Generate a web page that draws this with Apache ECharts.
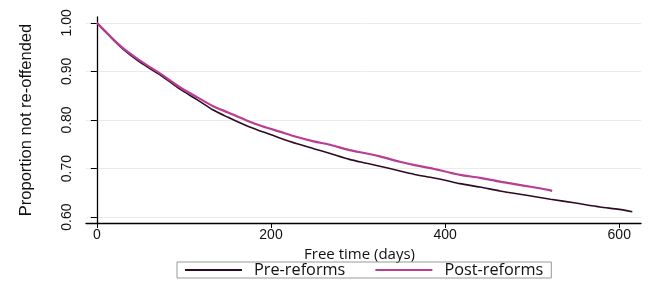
<!DOCTYPE html>
<html><head><meta charset="utf-8">
<script src="https://cdn.jsdelivr.net/npm/echarts@6/dist/echarts.min.js"></script>
<style>html,body{margin:0;padding:0;background:#fff}#c{width:670px;height:289px}</style>
</head><body><div id="c"></div>
<script>
const preDays = [0,10,20,30,45,60,75,95,115,133,150,172,190,210,230,249,268,290,310,325,348,365,383,400,417,440,463,490,521,550,578,600,615];
const preVals = [1.000,0.981,0.963,0.946,0.925,0.907,0.890,0.864,0.842,0.821,0.806,0.788,0.776,0.763,0.751,0.741,0.731,0.719,0.711,0.705,0.695,0.688,0.682,0.676,0.669,0.662,0.654,0.646,0.637,0.629,0.621,0.616,0.611];
const postDays = [0,10,20,30,45,60,75,95,115,133,150,172,190,210,230,249,268,290,310,325,348,365,383,400,417,440,463,490,510,521,523];
const postVals = [1.000,0.982,0.964,0.948,0.928,0.910,0.893,0.868,0.847,0.829,0.816,0.799,0.787,0.776,0.765,0.756,0.749,0.738,0.731,0.725,0.714,0.707,0.701,0.694,0.687,0.681,0.673,0.665,0.659,0.655,0.654];
const xTicks = [0,200,400,600];
const yTicks = [0.6,0.7,0.8,0.9,1.0];
const seriesNames = ['Pre-reforms','Post-reforms'];

const chart = echarts.init(document.getElementById('c'), null, {renderer:'canvas'});
const pair = (d,v)=>d.map((x,i)=>[x,v[i]]);
chart.setOption({
  animation:false,
  grid:{left:86,right:29,top:17,bottom:66},
  legend:{
    left:177, top:262, padding:[0,8,0,8], itemGap:30, itemWidth:57, itemHeight:2, icon:'rect',
    borderColor:'#999', borderWidth:1,
    textStyle:{fontFamily:'Open Sans', fontSize:16.3, color:'#111', padding:[0,0,0,7]},
    data:seriesNames
  },
  xAxis:{
    type:'value', min:-12.5, max:625,
    name:'Free time (days)', nameLocation:'middle', nameGap:9,
    nameTextStyle:{fontFamily:'Open Sans', fontSize:15, color:'#111', padding:[0,8,0,0]},
    axisLine:{lineStyle:{color:'#000', width:1.3}},
    axisTick:{length:5, customValues:xTicks, lineStyle:{color:'#000'}},
    axisLabel:{customValues:xTicks, margin:5, fontFamily:'Liberation Sans', fontSize:14, color:'#111'},
    splitLine:{show:false}
  },
  yAxis:{
    type:'value', min:0.588, max:1.012,
    name:'Proportion not re-offended', nameLocation:'middle', nameGap:51,
    nameTextStyle:{fontFamily:'Liberation Sans', fontSize:16.5, color:'#111'},
    axisLine:{show:true, lineStyle:{color:'#000', width:1.3}},
    axisTick:{show:true, length:6, customValues:yTicks, lineStyle:{color:'#000'}},
    axisLabel:{customValues:yTicks, rotate:90, margin:12, fontFamily:'Liberation Sans', fontSize:14, color:'#111',
      formatter:v=>v.toFixed(2)},
    splitLine:{show:true, lineStyle:{color:'#ebebeb', width:1}}
  },
  series:[
    {name:seriesNames[0], type:'line', symbol:'none', smooth:0.25, data:pair(preDays,preVals),
     lineStyle:{color:'#2e0b22', width:1.6}, itemStyle:{color:'#2e0b22'}, z:2},
    {name:seriesNames[1], type:'line', symbol:'none', smooth:0.25, data:pair(postDays,postVals),
     lineStyle:{color:'#b83d93', width:2.2}, itemStyle:{color:'#b83d93'}, z:3}
  ]
});
</script></body></html>
